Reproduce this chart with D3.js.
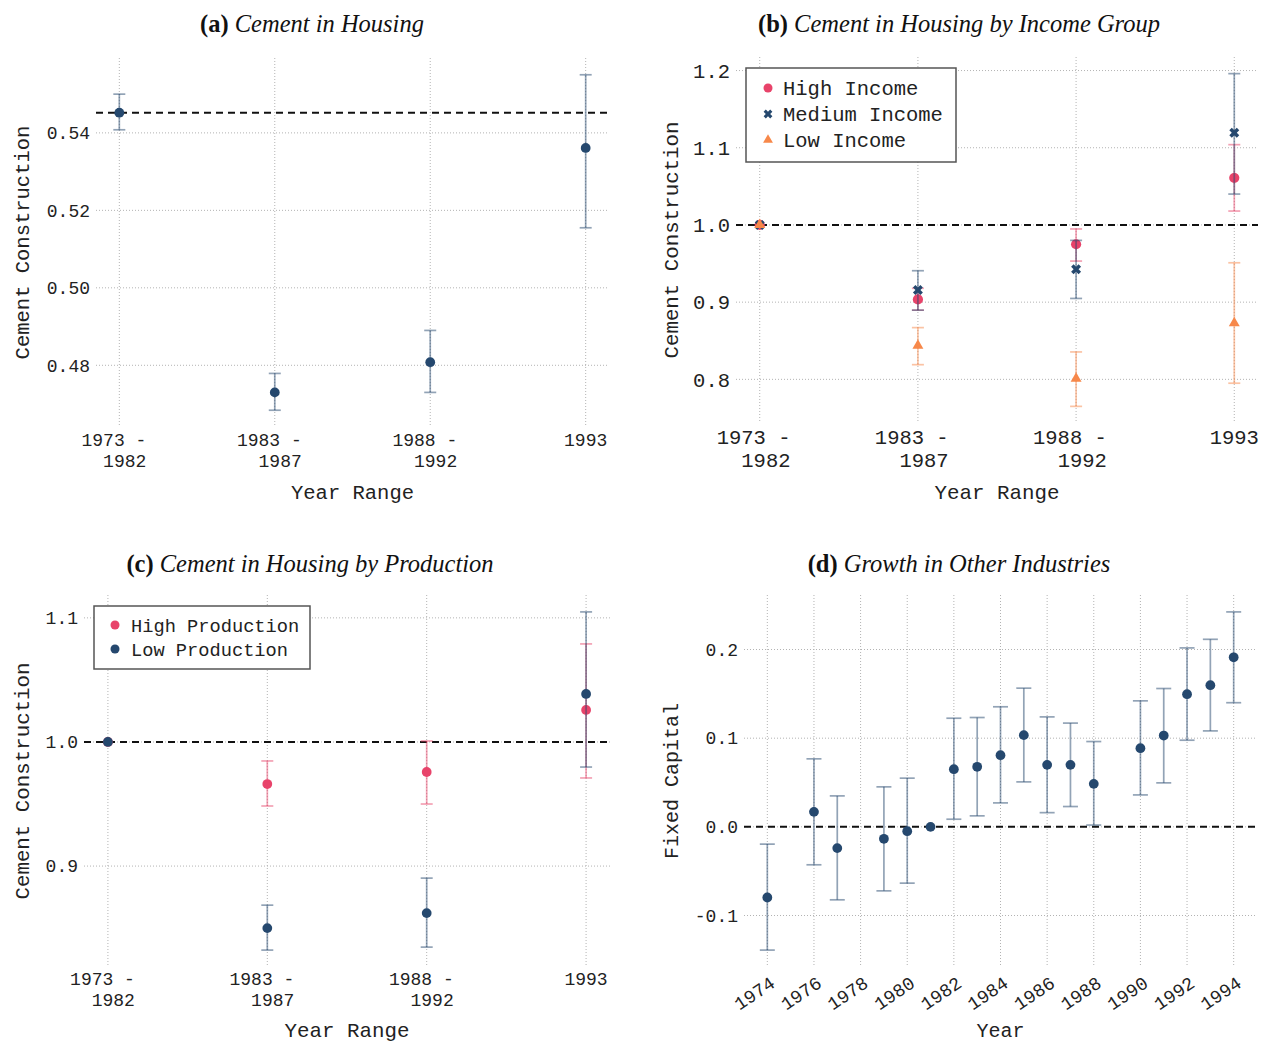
<!DOCTYPE html>
<html>
<head>
<meta charset="utf-8">
<script src="https://cdn.jsdelivr.net/npm/d3@7"></script>
<style>
  body { margin: 0; background: #fff; }
  text { font-family: "Liberation Mono", monospace; fill: #222; }
  .title { font-family: "Liberation Serif", serif; font-size: 24.5px; fill: #111; }
  .grid line { stroke: #b3b3b3; stroke-width: 1; stroke-dasharray: 1,2; }
</style>
</head>
<body>
<div id="chart"></div>
<script>
// year ranges used in panels a-c
const periods = ["1973-1982", "1983-1987", "1988-1992", "1993"]
const periodLines = [["1973 - ", " 1982"], ["1983 - ", " 1987"], ["1988 - ", " 1992"], ["1993"]]

// (a) cement in housing
const housingEst = [0.5452, 0.4730, 0.4808, 0.5361]
const housingLo = [0.5408, 0.4684, 0.4730, 0.5155]
const housingHi = [0.5500, 0.4779, 0.4890, 0.5550]
const housingTicks = [0.48, 0.50, 0.52, 0.54]

// (b) by income group
const incomeGroups = ["High Income", "Medium Income", "Low Income"]
const highIncEst = [1.0, 0.9035, 0.975, 1.061]
const highIncLo = [1.0, 0.8896, 0.9532, 1.018]
const highIncHi = [1.0, 0.918, 0.9948, 1.104]
const medIncEst = [1.0, 0.9156, 0.9425, 1.1195]
const medIncLo = [1.0, 0.8896, 0.9048, 1.040]
const medIncHi = [1.0, 0.9407, 0.980, 1.196]
const lowIncEst = [1.0, 0.8438, 0.801, 0.873]
const lowIncLo = [1.0, 0.819, 0.765, 0.795]
const lowIncHi = [1.0, 0.867, 0.8355, 0.951]
const incomeTicks = [0.8, 0.9, 1.0, 1.1, 1.2]

// (c) by production
const prodGroups = ["High Production", "Low Production"]
const highProdEst = [1.0, 0.9661, 0.9758, 1.0258]
const highProdLo = [1.0, 0.9484, 0.950, 0.971]
const highProdHi = [1.0, 0.9847, 1.0008, 1.079]
const lowProdEst = [1.0, 0.850, 0.8621, 1.0387]
const lowProdLo = [1.0, 0.8323, 0.8347, 0.9798]
const lowProdHi = [1.0, 0.8685, 0.8903, 1.1048]
const prodTicks = [0.9, 1.0, 1.1]

// (d) growth in other industries
const years = [1974, 1976, 1977, 1979, 1980, 1981, 1982, 1983, 1984, 1985, 1986, 1987, 1988, 1990, 1991, 1992, 1993, 1994]
const growthEst = [-0.0797, 0.0169, -0.024, -0.0135, -0.0049, 0, 0.065, 0.0677, 0.0808, 0.1034, 0.0699, 0.0699, 0.0485, 0.0887, 0.103, 0.1496, 0.1597, 0.1912]
const growthLo = [-0.139, -0.0428, -0.0823, -0.0722, -0.0635, 0, 0.0086, 0.0124, 0.027, 0.0507, 0.016, 0.0229, 0.002, 0.036, 0.0496, 0.0977, 0.1082, 0.14]
const growthHi = [-0.0195, 0.0767, 0.0349, 0.0451, 0.0549, 0, 0.1225, 0.1233, 0.1354, 0.1564, 0.124, 0.117, 0.0962, 0.1421, 0.156, 0.2018, 0.2115, 0.2424]
const yearTicks = [1974, 1976, 1978, 1980, 1982, 1984, 1986, 1988, 1990, 1992, 1994]
const growthTicks = [-0.1, 0.0, 0.1, 0.2]

const navy = "#25486e", red = "#e8436a", orange = "#f7884a"

const svg = d3.select("#chart").append("svg")
  .attr("width", 1262)
  .attr("height", 1044)

// matplotlib style 5% margin around the error bars
function padded(lo, hi) {
  const mn = d3.min(lo), mx = d3.max(hi), m = (mx - mn) * 0.05
  return [mn - m, mx + m]
}

function title(cx, y, tag, rest) {
  const t = svg.append("text").attr("class", "title")
    .attr("x", cx).attr("y", y).attr("text-anchor", "middle")
  t.append("tspan").attr("font-weight", "bold").text(tag + " ")
  t.append("tspan").attr("font-style", "italic").text(rest)
}

function grid(g, xs, ys, w, h) {
  const gg = g.append("g").attr("class", "grid")
  gg.selectAll(".v").data(xs).join("line").attr("class", "v")
    .attr("x1", d => d).attr("x2", d => d).attr("y1", 0).attr("y2", h)
  gg.selectAll(".h").data(ys).join("line").attr("class", "h")
    .attr("x1", 0).attr("x2", w).attr("y1", d => d).attr("y2", d => d)
}

function yTickLabels(g, y, ticks, fmt, size) {
  g.append("g").selectAll("text").data(ticks).join("text")
    .attr("x", -6)
    .attr("y", d => y(d))
    .attr("dy", "0.35em")
    .attr("text-anchor", "end")
    .attr("font-size", size)
    .text(fmt)
}

function periodLabels(g, x, h, off, lead, size) {
  const t = g.append("g").selectAll("text").data(periods).join("text")
    .attr("text-anchor", "middle")
    .attr("font-size", size)
    .style("white-space", "pre")
  t.each(function (p, i) {
    const el = d3.select(this)
    periodLines[i].forEach((line, j) => {
      el.append("tspan")
        .attr("x", x(p))
        .attr("y", h + off + j * lead)
        .text(line)
    })
  })
}

function axisTitles(g, w, h, xText, xOff, yText, yOff, size) {
  g.append("text")
    .attr("x", w / 2).attr("y", h + xOff)
    .attr("text-anchor", "middle")
    .attr("font-size", size)
    .text(xText)
  g.append("text")
    .attr("transform", "translate(" + yOff + "," + (h / 2) + ") rotate(-90)")
    .attr("text-anchor", "middle")
    .attr("dy", "0.35em")
    .attr("font-size", size)
    .text(yText)
}

function refLine(g, w, yPos) {
  g.append("line")
    .attr("x1", 0).attr("x2", w)
    .attr("y1", yPos).attr("y2", yPos)
    .attr("stroke", "#111")
    .attr("stroke-width", 2)
    .attr("stroke-dasharray", "7,5")
}

function markerPath(kind, size) {
  if (kind === "x") return d3.symbol().type(d3.symbolCross).size(size)()
  if (kind === "triangle") return d3.symbol().type(d3.symbolTriangle).size(size)()
  return d3.symbol().type(d3.symbolCircle).size(size)()
}

function errorSeries(g, xv, y, est, lo, hi, color, cap, kind, size) {
  const data = xv.map((v, i) => ({ x: v, est: est[i], lo: lo[i], hi: hi[i] }))
  const withErr = data.filter(d => d.lo !== d.hi)
  const eg = g.append("g")
    .attr("stroke", color)
    .attr("stroke-opacity", 0.5)
    .attr("stroke-width", 1.7)
  eg.selectAll(".bar").data(withErr).join("line").attr("class", "bar")
    .attr("x1", d => d.x).attr("x2", d => d.x)
    .attr("y1", d => y(d.lo)).attr("y2", d => y(d.hi))
  eg.selectAll(".capLo").data(withErr).join("line").attr("class", "capLo")
    .attr("x1", d => d.x - cap).attr("x2", d => d.x + cap)
    .attr("y1", d => y(d.lo)).attr("y2", d => y(d.lo))
  eg.selectAll(".capHi").data(withErr).join("line").attr("class", "capHi")
    .attr("x1", d => d.x - cap).attr("x2", d => d.x + cap)
    .attr("y1", d => y(d.hi)).attr("y2", d => y(d.hi))
  g.append("g").selectAll("path").data(data).join("path")
    .attr("d", markerPath(kind, size))
    .attr("transform", d => "translate(" + d.x + "," + y(d.est) + ")" + (kind === "x" ? " rotate(45)" : ""))
    .attr("fill", color)
}

function legend(g, bx, by, bw, bh, items, rowY, mx, tx, size) {
  const lg = g.append("g")
  lg.append("rect")
    .attr("x", bx).attr("y", by).attr("width", bw).attr("height", bh)
    .attr("fill", "#fff")
    .attr("stroke", "#555")
    .attr("stroke-width", 1.5)
  items.forEach((it, i) => {
    lg.append("path")
      .attr("d", markerPath(it.kind, it.size))
      .attr("transform", "translate(" + mx + "," + rowY[i] + ")" + (it.kind === "x" ? " rotate(45)" : ""))
      .attr("fill", it.color)
    lg.append("text")
      .attr("x", tx).attr("y", rowY[i])
      .attr("dy", "0.35em")
      .attr("font-size", size)
      .text(it.label)
  })
}

// ---------- (a) ----------
;(function () {
  const left = 96, top = 58, w = 513, h = 369
  const g = svg.append("g").attr("transform", "translate(" + left + "," + top + ")")
  const x = d3.scalePoint().domain(periods).range([0, w]).padding(0.15)
  const y = d3.scaleLinear().domain(padded(housingLo, housingHi)).range([h, 0])

  grid(g, periods.map(x), housingTicks.map(y), w, h)
  refLine(g, w, y(housingEst[0]))
  errorSeries(g, periods.map(x), y, housingEst, housingLo, housingHi, navy, 6, "circle", 75)
  yTickLabels(g, y, housingTicks, d => d.toFixed(2), "18px")
  periodLabels(g, x, h, 19, 21, "18px")
  axisTitles(g, w, h, "Year Range", 72, "Cement Construction", -74, "20.5px")
  title(312, 32, "(a)", "Cement in Housing")
})()

// ---------- (b) ----------
;(function () {
  const left = 736, top = 57, w = 522, h = 366
  const g = svg.append("g").attr("transform", "translate(" + left + "," + top + ")")
  const x = d3.scalePoint().domain(periods).range([0, w]).padding(0.15)
  const allLo = highIncLo.concat(medIncLo, lowIncLo)
  const allHi = highIncHi.concat(medIncHi, lowIncHi)
  const y = d3.scaleLinear().domain(padded(allLo, allHi)).range([h, 0])
  const xv = periods.map(x)

  grid(g, xv, incomeTicks.map(y), w, h)
  refLine(g, w, y(1))
  errorSeries(g, xv, y, highIncEst, highIncLo, highIncHi, red, 6, "circle", 82)
  errorSeries(g, xv, y, medIncEst, medIncLo, medIncHi, navy, 6, "x", 62)
  errorSeries(g, xv, y, lowIncEst, lowIncLo, lowIncHi, orange, 6, "triangle", 52)
  yTickLabels(g, y, incomeTicks, d => d.toFixed(1), "20.5px")
  periodLabels(g, x, h, 21, 23, "20.5px")
  axisTitles(g, w, h, "Year Range", 76, "Cement Construction", -65, "20.8px")
  legend(g, 10, 11, 210, 94, [
    { label: incomeGroups[0], color: red, kind: "circle", size: 64 },
    { label: incomeGroups[1], color: navy, kind: "x", size: 48 },
    { label: incomeGroups[2], color: orange, kind: "triangle", size: 42 }
  ], [31, 57, 83], 32, 47, "20.5px")
  title(959, 32, "(b)", "Cement in Housing by Income Group")
})()

// ---------- (c) ----------
;(function () {
  const left = 84, top = 595, w = 526, h = 372
  const g = svg.append("g").attr("transform", "translate(" + left + "," + top + ")")
  const x = d3.scalePoint().domain(periods).range([0, w]).padding(0.15)
  const y = d3.scaleLinear().domain(padded(highProdLo.concat(lowProdLo), highProdHi.concat(lowProdHi))).range([h, 0])
  const xv = periods.map(x)

  grid(g, xv, prodTicks.map(y), w, h)
  refLine(g, w, y(1))
  errorSeries(g, xv, y, highProdEst, highProdLo, highProdHi, red, 6, "circle", 75)
  errorSeries(g, xv, y, lowProdEst, lowProdLo, lowProdHi, navy, 6, "circle", 75)
  yTickLabels(g, y, prodTicks, d => d.toFixed(1), "18px")
  periodLabels(g, x, h, 18, 21, "18px")
  axisTitles(g, w, h, "Year Range", 70, "Cement Construction", -62, "20.8px")
  legend(g, 10, 11, 216, 63, [
    { label: prodGroups[0], color: red, kind: "circle", size: 64 },
    { label: prodGroups[1], color: navy, kind: "circle", size: 64 }
  ], [30, 54], 31, 47, "18.7px")
  title(310, 572, "(c)", "Cement in Housing by Production")
})()

// ---------- (d) ----------
;(function () {
  const left = 744, top = 595, w = 513, h = 372
  const g = svg.append("g").attr("transform", "translate(" + left + "," + top + ")")
  const x = d3.scaleLinear().domain([d3.min(years) - 1, d3.max(years) + 1]).range([0, w])
  const y = d3.scaleLinear().domain(padded(growthLo, growthHi)).range([h, 0])

  grid(g, yearTicks.map(x), growthTicks.map(y), w, h)
  refLine(g, w, y(0))
  errorSeries(g, years.map(x), y, growthEst, growthLo, growthHi, navy, 7.5, "circle", 75)
  yTickLabels(g, y, growthTicks, d => d.toFixed(1).replace("\u2212", "-"), "18px")

  g.append("g").selectAll("text").data(yearTicks).join("text")
    .attr("transform", d => "translate(" + (x(d) + 9) + "," + (h + 19) + ") rotate(-34)")
    .attr("text-anchor", "end")
    .attr("font-size", "18.5px")
    .text(d => d)

  axisTitles(g, w, h, "Year", 70, "Fixed Capital", -73, "20px")
  title(959, 572, "(d)", "Growth in Other Industries")
})()
</script>
</body>
</html>
